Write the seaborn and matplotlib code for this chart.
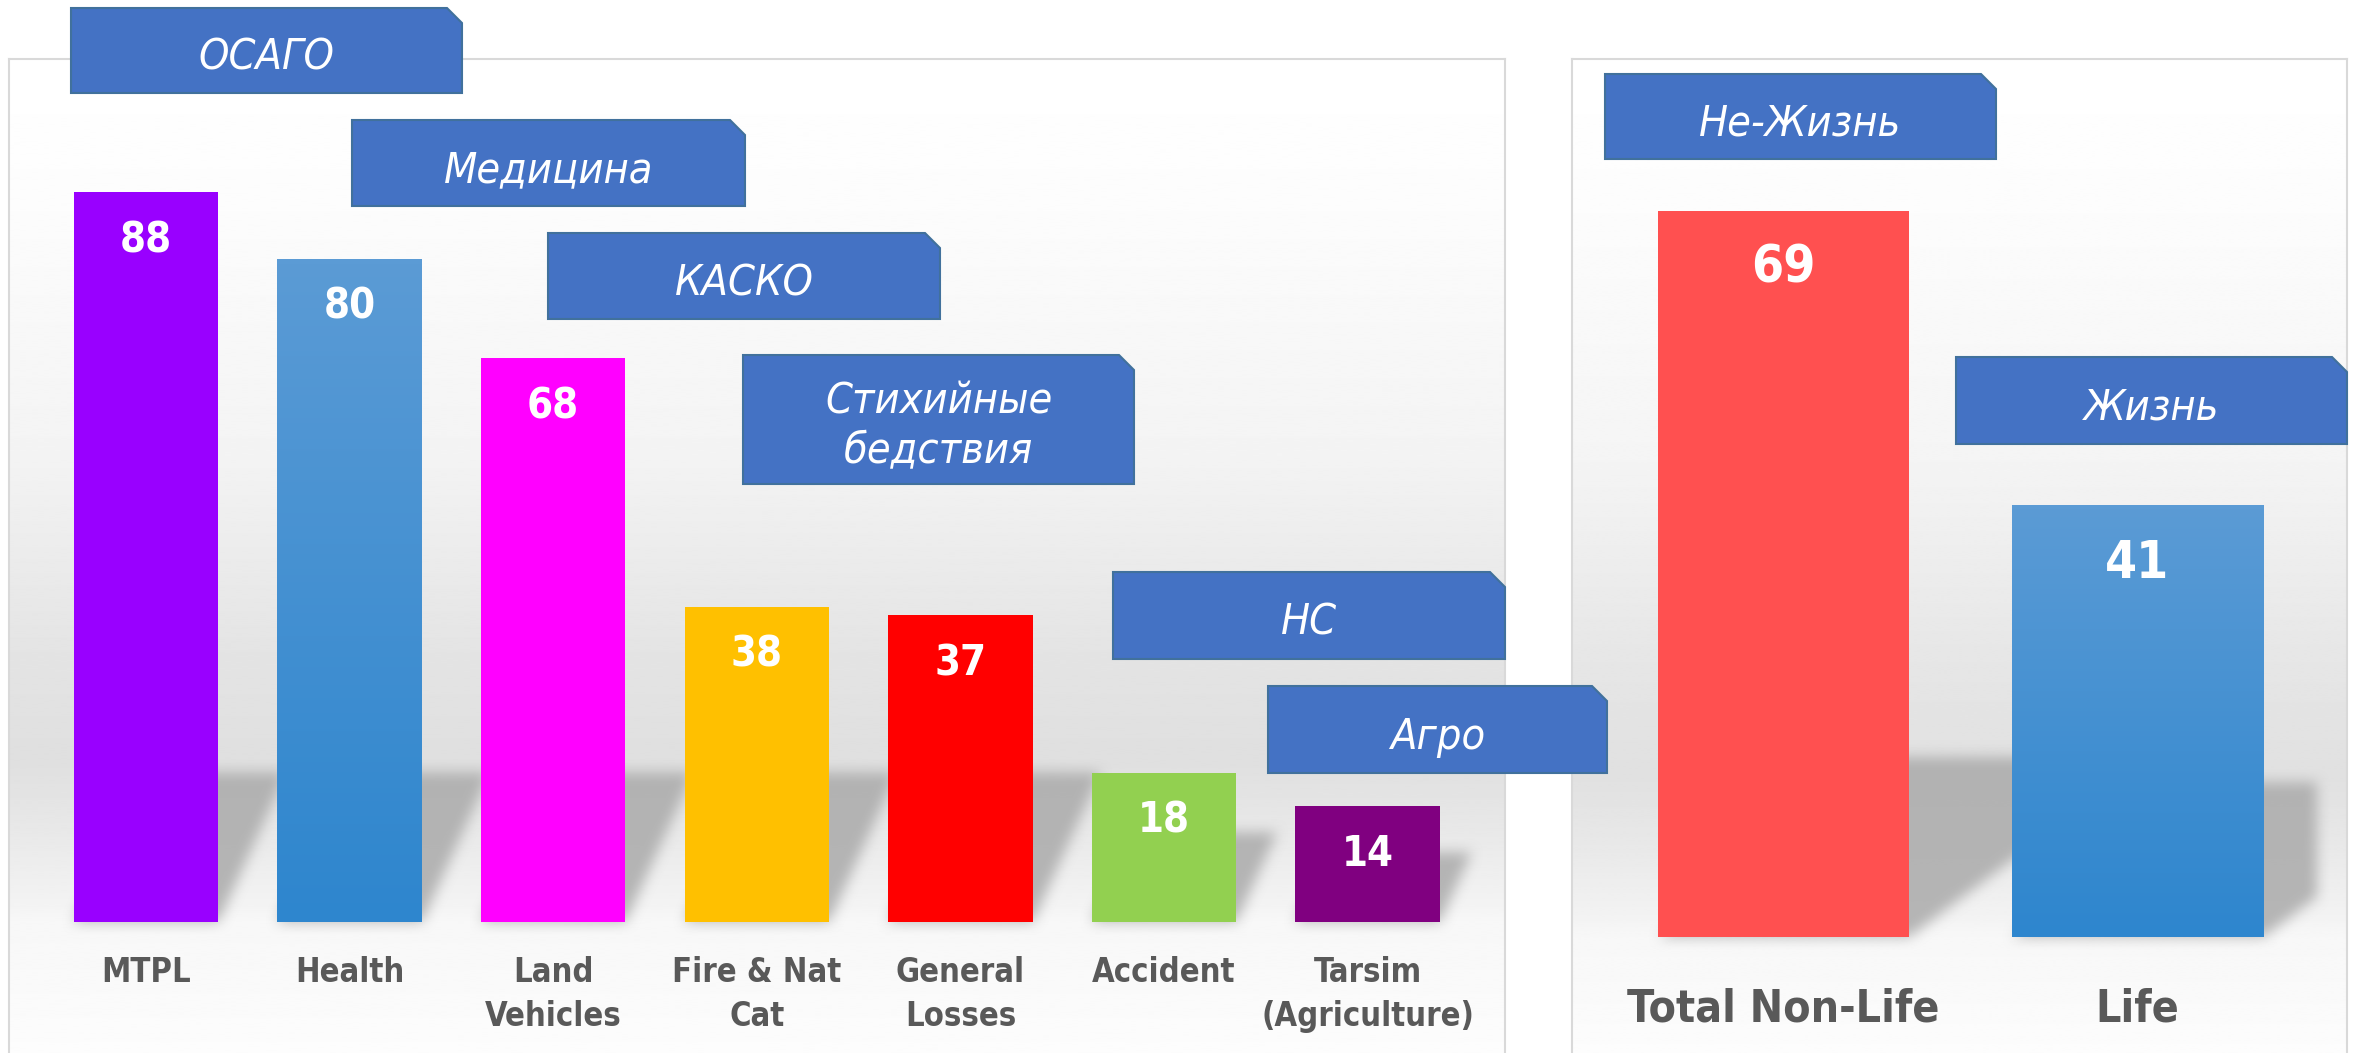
"""
insurance lines: premium growth bars with russian name tags
"""
import numpy as np
import matplotlib as mpl
mpl.use('Agg')
from matplotlib import pyplot as plt
from matplotlib import font_manager
from matplotlib.patches import Polygon
from matplotlib.colors import LinearSegmentedColormap
import seaborn as sns

W, H, DPI = 2359, 1053, 100

# data
lob_labels = ['MTPL', 'Health', 'Land\nVehicles', 'Fire & Nat\nCat', 'General\nLosses',
              'Accident', 'Tarsim\n(Agriculture)']
lob_values = [88, 80, 68, 38, 37, 18, 14]
lob_colors = ['#9900ff', '#5b9bd5', '#ff00ff', '#ffc000', '#ff0000', '#92d050', '#800080']
lob_names_ru = ['ОСАГО', 'Медицина', 'КАСКО', 'Стихийные\nбедствия', 'НС', 'Агро']

total_labels = ['Total Non-Life', 'Life']
total_values = [69, 41]
total_colors = ['#ff5050', '#5b9bd5']
total_names_ru = ['Не-Жизнь', 'Жизнь']

# name tag boxes, pixel coords (x0, y0, x1, y1) from top-left
lob_boxes = [(71, 8, 462, 93), (352, 120, 745, 206), (548, 233, 940, 319),
             (743, 355, 1134, 484), (1113, 572, 1505, 659), (1268, 686, 1607, 773)]
total_boxes = [(1605, 74, 1996, 159), (1956, 357, 2347, 444)]

BOX = '#4472c4'
BOX_EDGE = '#41719c'
TICK = '#595959'
FRAME = '#d9d9d9'

sns.set_theme(style='white')
names = {f.name for f in font_manager.fontManager.ttflist}
narrow = 'Liberation Sans Narrow' if 'Liberation Sans Narrow' in names else 'DejaVu Sans'
plt.rcParams['font.family'] = [narrow, 'DejaVu Sans']
plt.rcParams['font.stretch'] = 'condensed'


def px2fig(x, y):
    return x / W, 1 - y / H


def background(ax, stops_py, stops_val, top=59, bottom=1053):
    ys = np.linspace(top, bottom, 500)
    vals = np.interp(ys, stops_py, stops_val)
    ax.imshow(vals[:, None], extent=[0, 1, 0, 1], transform=ax.transAxes, aspect='auto',
              cmap='gray', vmin=0, vmax=1, zorder=0, interpolation='bilinear')


def box_blur(a, r, axis):
    pad = [(0, 0), (0, 0)]
    pad[axis] = (r + 1, r)
    c = np.cumsum(np.pad(a, pad, mode='edge'), axis=axis)
    n = a.shape[axis]
    hi = np.take(c, np.arange(2 * r + 1, 2 * r + 1 + n), axis=axis)
    lo = np.take(c, np.arange(0, n), axis=axis)
    return (hi - lo) / (2 * r + 1)


def shadows(ax, slope, sh_frac, sh_max, clip_px, r=7):
    """soft cast shadow to the upper right of every bar, drawn as a pixel image"""
    x0, y0, w, h = ax.bbox.bounds
    nx, ny = int(round(w)), int(round(h))
    X = x0 + np.arange(nx) + 0.5
    Y = y0 + np.arange(ny) + 0.5
    XX, YY = np.meshgrid(X, Y)
    mask = np.zeros((ny, nx))
    for bar in ax.patches:
        (bl, bb), (br, bt) = ax.transData.transform(
            [(bar.get_x(), 0), (bar.get_x() + bar.get_width(), bar.get_height())])
        sh = min(sh_frac * (bt - bb), sh_max)
        dy = YY - bb
        shift = dy / slope
        inside = (dy >= 0) & (dy <= sh) & (XX >= bl + shift) & (XX <= br + shift)
        mask[inside] = 1.0
    mask[:, X > clip_px] = 0.0
    for _ in range(2):
        mask = box_blur(mask, r, 0)
        mask = box_blur(mask, r, 1)
    img = np.zeros((ny, nx, 4))
    img[..., :3] = 0.67
    img[..., 3] = np.clip(mask, 0, 1) * 0.85
    ax.imshow(img, extent=[0, 1, 0, 1], transform=ax.transAxes, origin='lower',
              aspect='auto', zorder=0.5, interpolation='bilinear')


def blue_gradient(ax, idx):
    cmap = LinearSegmentedColormap.from_list('bl', ['#2e86ce', '#5b9bd5'])
    bar = ax.patches[idx]
    x0, w, hgt = bar.get_x(), bar.get_width(), bar.get_height()
    im = ax.imshow(np.linspace(0, 1, 100)[:, None], extent=[x0, x0 + w, 0, hgt], origin='lower',
                   cmap=cmap, aspect='auto', zorder=2.5, interpolation='bilinear')
    im.set_clip_path(bar)


def style_panel(ax, label_size, pad, spacing):
    ax.set(xlabel='', ylabel='')
    ax.set_yticks([])
    for side in ['top', 'left', 'right']:
        ax.spines[side].set_color(FRAME)
        ax.spines[side].set_linewidth(1.5)
    ax.spines['bottom'].set_visible(False)
    ax.tick_params(axis='x', length=0, pad=pad, labelsize=label_size, labelcolor=TICK)
    for t in ax.get_xticklabels():
        t.set_fontweight('bold')
        t.set_linespacing(spacing)


def draw_box(fig, box, text, fs=31):
    x0, y0, x1, y1 = box
    cut = 15
    pts = [px2fig(*p) for p in [(x0, y0), (x1 - cut, y0), (x1, y0 + cut), (x1, y1), (x0, y1)]]
    fig.add_artist(Polygon(pts, closed=True, transform=fig.transFigure, facecolor=BOX,
                           edgecolor=BOX_EDGE, lw=1.5, zorder=5))
    cx, cy = px2fig((x0 + x1) / 2, (y0 + y1) / 2 + 7)
    fig.text(cx, cy, text, ha='center', va='center', color='white', fontsize=fs,
             fontstyle='italic', linespacing=1.25, zorder=6)


fig = plt.figure(figsize=(W / DPI, H / DPI), dpi=DPI)
fig.patch.set_facecolor('white')

# left panel
ax_l = fig.add_axes([9 / W, 0, (1505 - 9) / W, (1053 - 59) / H])
sns.barplot(x=lob_labels, y=lob_values, hue=lob_labels, palette=lob_colors, legend=False,
            width=0.71, saturation=1, linewidth=0, ax=ax_l, zorder=2)
ax_l.set_xlim(-0.673, 6.675)
ax_l.set_ylim(-15.8, 104.1)
background(ax_l, [59, 200, 450, 650, 760, 830, 900, 922, 960, 1053],
           [1.0, 0.99, 0.955, 0.895, 0.875, 0.91, 0.95, 0.97, 0.975, 0.99])
shadows(ax_l, 2.2, 0.6, 150, 1478)
blue_gradient(ax_l, 1)
for c in ax_l.containers:
    for t in ax_l.bar_label(c, padding=-34.5, color='white', fontsize=30, fontweight='bold'):
        t.set_va('center')
        t.set_zorder(4)
style_panel(ax_l, 23.5, -70, 1.45)
ax_l.set_xlim(-0.673, 6.675)
ax_l.set_ylim(-15.8, 104.1)

# right panel
ax_r = fig.add_axes([1572 / W, 0, (2347 - 1572) / W, (1053 - 59) / H])
sns.barplot(x=total_labels, y=total_values, hue=total_labels, palette=total_colors, legend=False,
            width=0.71, saturation=1, linewidth=0, ax=ax_r, zorder=2)
ax_r.set_xlim(-0.598, 1.592)
ax_r.set_ylim(-11.0, 83.4)
background(ax_r, [59, 200, 450, 650, 775, 845, 915, 937, 975, 1053],
           [1.0, 0.99, 0.96, 0.905, 0.88, 0.91, 0.95, 0.97, 0.975, 0.99])
shadows(ax_r, 0.75, 0.36, 180, 2317)
blue_gradient(ax_r, 1)
for c in ax_r.containers:
    for t in ax_r.bar_label(c, padding=-42, color='white', fontsize=37, fontweight='bold'):
        t.set_va('center')
        t.set_zorder(4)
style_panel(ax_r, 32, -47, 1.3)
ax_r.set_xlim(-0.598, 1.592)
ax_r.set_ylim(-11.0, 83.4)

# name tags
for box, name in zip(lob_boxes, lob_names_ru):
    draw_box(fig, box, name)
for box, name in zip(total_boxes, total_names_ru):
    draw_box(fig, box, name)

fig.savefig('out.png', dpi=DPI)
